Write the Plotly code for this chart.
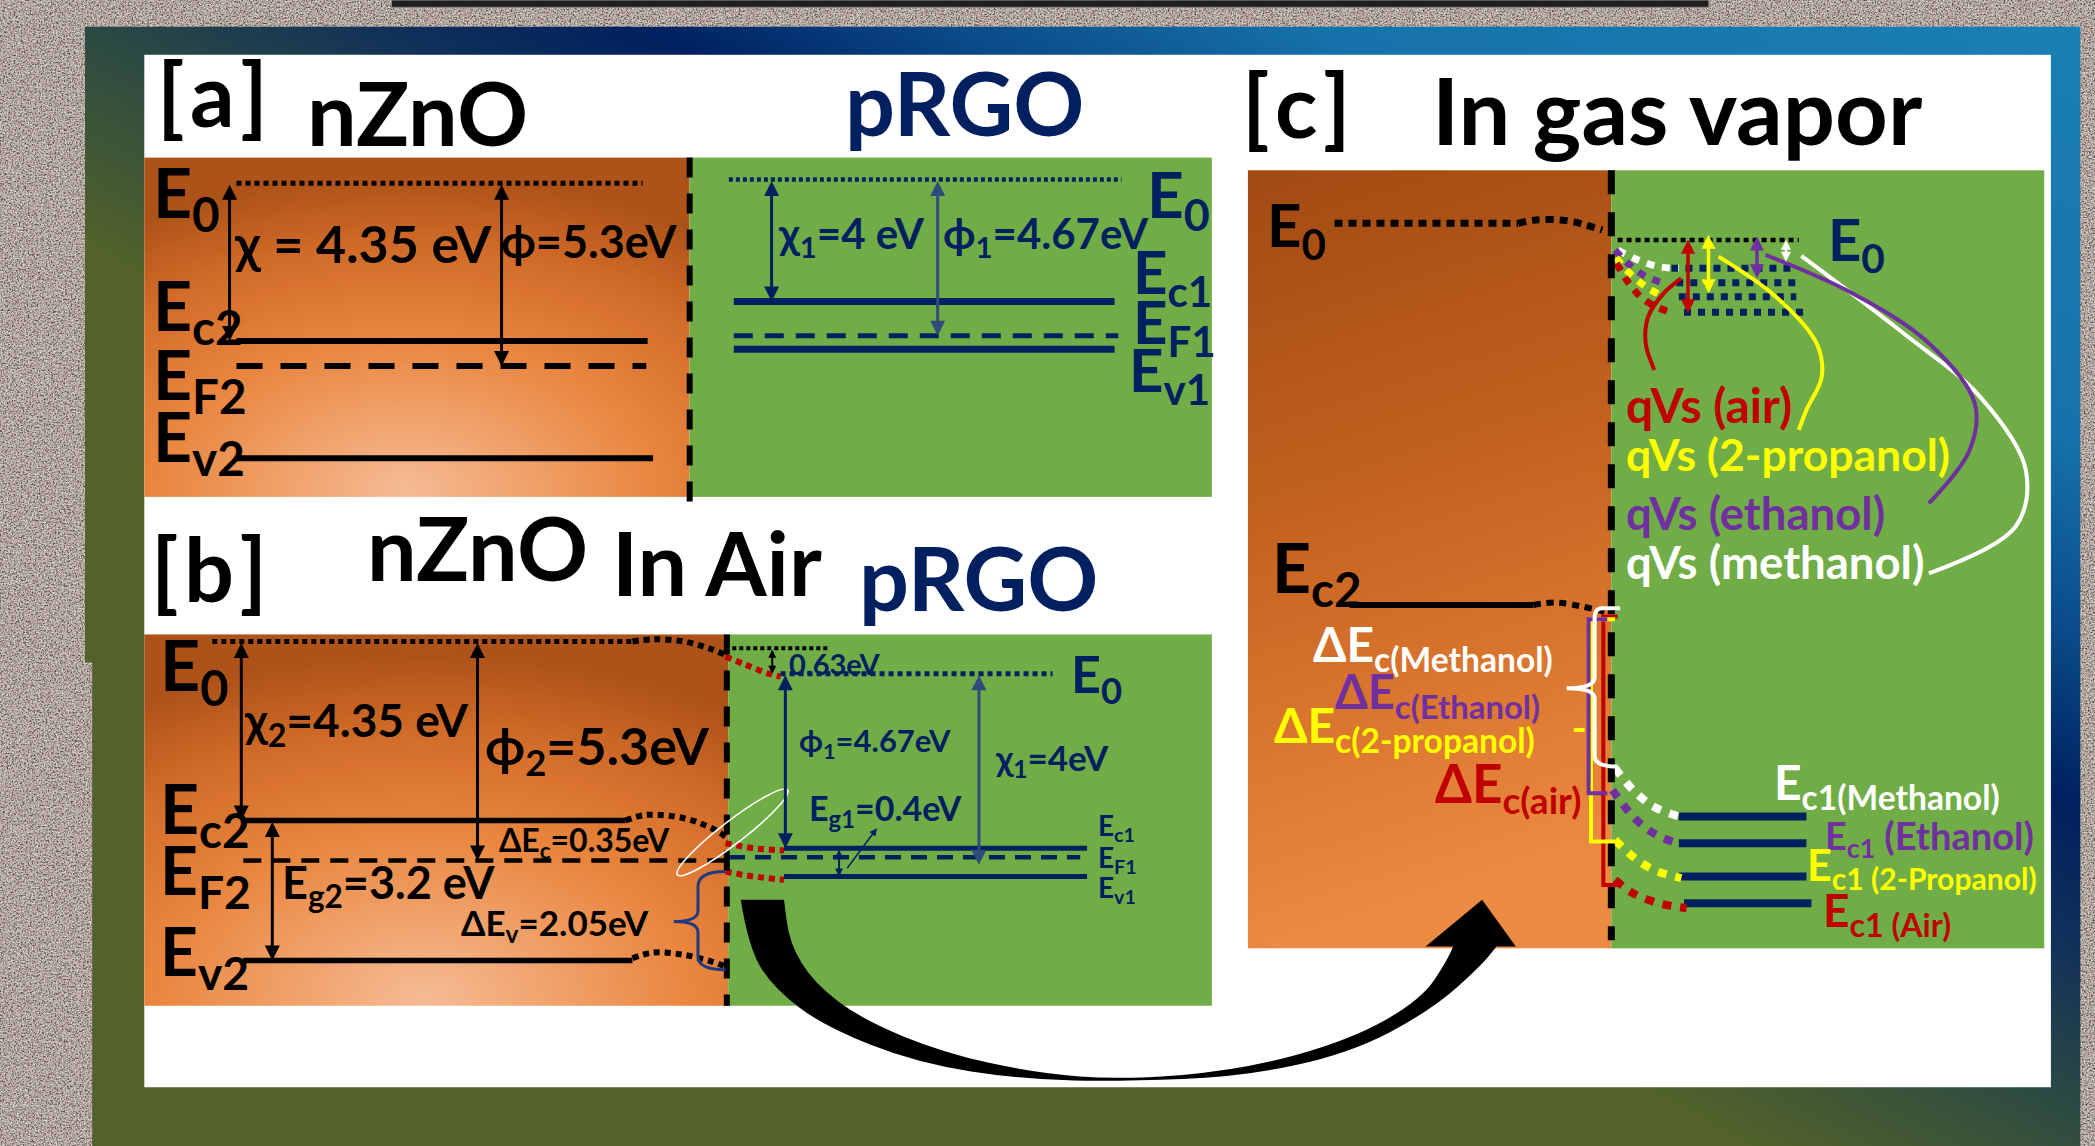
import base64
import plotly.graph_objects as go

S = 2095 / 1568          # screen px per picture unit
W, H = 1568, 858         # picture units

# ============================ DATA ============================
# values printed on the diagram (eV)
CHI_ZNO = 4.35
PHI_ZNO = 5.3
EG_ZNO = 3.2
CHI_RGO = 4
PHI_RGO = 4.67
EG_RGO = 0.4
DELTA_EC = 0.35
DELTA_EV = 2.05
VAC_STEP = 0.63

# level heights (picture y), order: E0, Ec, EF, Ev
A_ZNO_Y = [137.2, 255.3, 274.0, 343.1]
A_RGO_Y = [134.3, 225.8, 251.3, 261.5]
B_ZNO_Y = [480.3, 614.3, 644.3, 719.1]
B_RGO_Y = [504.5, 635.0, 641.8, 656.2]
B_VAC_REF_Y = 485.3

# band bending at the junction in air (panel b)
B_E0_BEND_X = [473.4, 488.9, 512.1, 530.1, 543.0]
B_E0_BEND_Y = [480.3, 478.6, 480.3, 485.3, 490.3]
B_E0_RED_X = [543.0, 558.4, 573.9, 584.2]
B_E0_RED_Y = [491.6, 497.8, 504.0, 506.5]
B_EC_BEND_X = [468.2, 483.7, 512.1, 532.7, 543.0]
B_EC_BEND_Y = [614.3, 610.1, 612.6, 620.1, 626.3]
B_EC_RED_X = [543.0, 563.6, 586.8]
B_EC_RED_Y = [631.3, 635.0, 636.8]
B_EV_RED_X = [543.0, 563.6, 586.8]
B_EV_RED_Y = [652.5, 656.2, 658.7]
B_EV_BEND_X = [473.4, 488.9, 512.1, 532.7, 543.0]
B_EV_BEND_Y = [717.4, 713.1, 714.9, 719.9, 723.6]

# panel c (gas vapour)
GASES = ["Methanol", "Ethanol", "2-Propanol", "Air"]
C_E0_ZNO_Y = 167.2
C_E0_RGO_Y = 179.7
C_E0_BEND_X = [1136.2, 1149.6, 1172.5, 1199.3]
C_E0_BEND_Y = [167.2, 164.7, 165.2, 172.2]
C_VAC_ROWS_Y = [200.9, 211.6, 222.1, 233.8]
C_EC2_Y = 452.9
C_EC2_BEND_X = [1147.7, 1164.9, 1184.0, 1201.2]
C_EC2_BEND_Y = [452.9, 451.1, 454.1, 457.9]
C_EC1_Y = [611.3, 631.3, 656.2, 676.2]          # Methanol, Ethanol, 2-Propanol, Air

C_VAC_BEND_X = [[1210.7, 1226.0, 1241.3, 1256.5],
                [1208.8, 1218.3, 1229.8, 1245.1],
                [1209.5, 1222.2, 1233.6, 1245.0],
                [1209.9, 1218.3, 1227.9, 1239.3, 1252.7]]
C_VAC_BEND_Y = [[187.2, 194.6, 199.6, 200.9],
                [187.2, 197.1, 205.9, 212.1],
                [193.0, 207.1, 215.8, 222.1],
                [197.1, 210.9, 222.1, 229.6, 234.6]]
C_EC_BEND_X = [[1208.8, 1222.2, 1237.5, 1256.5],
               [1206.9, 1222.2, 1237.5, 1254.6],
               [1208.8, 1222.2, 1237.5, 1258.4],
               [1208.8, 1222.2, 1241.3, 1262.3]]
C_EC_BEND_Y = [[575.1, 591.4, 603.8, 611.3],
               [591.4, 611.3, 623.8, 631.3],
               [628.8, 641.3, 651.2, 657.5],
               [658.7, 668.7, 676.2, 679.9]]
# qVs double arrows (x, top, bottom)
QVS_X = [1336.7, 1315.0, 1278.7, 1263.4]
QVS_TOP = [178.4, 175.9, 174.7, 178.4]
QVS_BOT = [195.9, 208.4, 219.6, 234.6]
QVS_LABELS = ["qVs (methanol)", "qVs (ethanol)", "qVs (2-propanol)", "qVs (air)"]
QVS_LEAD_X = [[1348.2, 1424.6, 1481.9, 1516.2, 1508.6, 1443.7],
              [1321.5, 1386.4, 1443.7, 1478.0, 1474.2, 1443.7],
              [1286.3, 1329.1, 1359.6, 1363.5, 1352.0, 1346.3],
              [1258.4, 1245.1, 1233.6, 1231.7, 1238.2]]
QVS_LEAD_Y = [[191.6, 249.5, 296.9, 351.8, 394.2, 429.2],
              [190.9, 219.6, 257.0, 301.9, 336.9, 376.8],
              [192.1, 222.1, 257.0, 282.0, 306.9, 321.9],
              [208.4, 219.6, 237.1, 257.0, 277.0]]

# outline of the big curved arrow (b -> c)
ARROW_OUTER = [(554.4, 673.7), (560.4, 711.1), (580.4, 741.0), (617.0, 768.5), (686.2, 795.9),
               (767.4, 808.4), (840.4, 809.6), (929.4, 806.1), (1010.5, 788.6), (1071.4, 756.2),
               (1107.9, 723.7), (1120.1, 708.6)]
ARROW_HEAD = [(1134.5, 708.6), (1109.3, 673.7), (1067.0, 708.6)]
ARROW_INNER = [(1087.6, 708.6), (1083.6, 718.7), (1063.3, 748.7), (1010.5, 778.6), (929.4, 801.1),
               (840.4, 808.4), (775.5, 803.4), (706.6, 788.4), (645.7, 763.5), (609.1, 736.0),
               (590.9, 706.1), (586.8, 673.7)]

# ============================ STYLE ============================
FONT = "Lato, 'Open Sans', 'DejaVu Sans', sans-serif"
BLACK = "#000000"
NAVY = "#002060"
NAVY2 = "#2f4b7c"
RED = "#c00000"
YEL = "#ffff00"
PUR = "#7030a0"
WHT = "#ffffff"
GAS_COL = [WHT, PUR, YEL, RED]
ASC, CAP = 0.987, 0.7165
HS = "\u200a"   # hair space used inside the bracket labels

fig = go.Figure()
ann = []
shapes = []


def line(xs, ys, color, width, dash="solid", spline=False):
    fig.add_trace(go.Scatter(
        x=xs, y=ys, mode="lines", hoverinfo="skip", showlegend=False,
        line=dict(color=color, width=width, dash=dash,
                  shape="spline" if spline else "linear", smoothing=1.0)))


def hline(x0, x1, y, color, width, dash="solid"):
    line([x0, x1], [y, y], color, width, dash)


def text(x, cap_top, s, size, color=BLACK, xanchor="left"):
    ann.append(dict(x=x, y=cap_top - (ASC - CAP) * size / S, xref="x", yref="y",
                    text="<b>" + s + "</b>", showarrow=False, xanchor=xanchor,
                    yanchor="top", borderpad=0,
                    font=dict(family=FONT, size=size, color=color)))


def arrow(x0, y0, x1, y1, color, width, both=True, size=1.0):
    d = dict(x=x1, y=y1, ax=x0, ay=y0, xref="x", yref="y", axref="x", ayref="y",
             text="", showarrow=True, arrowhead=2, arrowsize=size, arrowwidth=width,
             arrowcolor=color, standoff=0)
    if both:
        d.update(arrowside="end+start", startarrowhead=2, startarrowsize=size,
                 startstandoff=0)
    ann.append(d)


def smooth(pts, start=True):
    """quadratic smoothing through the listed points"""
    out = [f"{'M' if start else 'L'} {pts[0][0]},{pts[0][1]}"]
    for i in range(1, len(pts) - 1):
        mx = (pts[i][0] + pts[i + 1][0]) / 2
        my = (pts[i][1] + pts[i + 1][1]) / 2
        out.append(f"Q {pts[i][0]},{pts[i][1]} {mx:.2f},{my:.2f}")
    out.append(f"L {pts[-1][0]},{pts[-1][1]}")
    return " ".join(out)


# ============================ BACKGROUND (svg image) ============================
svg = f'''<svg xmlns="http://www.w3.org/2000/svg" width="{W}" height="{H}" viewBox="0 0 {W} {H}" preserveAspectRatio="none">
<defs>
 <filter id="g1" x="0" y="0" width="1" height="1" color-interpolation-filters="sRGB">
  <feTurbulence type="fractalNoise" baseFrequency="0.75" numOctaves="3" seed="11"/>
  <feColorMatrix type="matrix" values="0 0 0 0 0.36  0 0 0 0 0.31  0 0 0 0 0.29  -3.2 0 0 0 1.85"/>
 </filter>
 <filter id="g2" x="0" y="0" width="1" height="1" color-interpolation-filters="sRGB">
  <feTurbulence type="fractalNoise" baseFrequency="0.9" numOctaves="2" seed="4"/>
  <feColorMatrix type="matrix" values="0 0 0 0 0.88  0 0 0 0 0.85  0 0 0 0 0.83  0 3.2 0 0 -1.45"/>
 </filter>
 <linearGradient id="frame" gradientUnits="userSpaceOnUse" x1="-200.3" y1="369.2" x2="353" y2="-650.5">
  <stop offset="0" stop-color="#52622a"/>
  <stop offset="0.25" stop-color="#52622a"/>
  <stop offset="0.371" stop-color="#2c4a42"/>
  <stop offset="0.466" stop-color="#10305a"/>
  <stop offset="0.544" stop-color="#00205f"/>
  <stop offset="0.638" stop-color="#0a4a88"/>
  <stop offset="0.75" stop-color="#1672aa"/>
  <stop offset="1" stop-color="#1a80b4"/>
 </linearGradient>
 <radialGradient id="zno" cx="0.48" cy="1.0" r="0.95" fx="0.48" fy="0.98">
  <stop offset="0" stop-color="#f5bb94"/>
  <stop offset="0.25" stop-color="#f0a068"/>
  <stop offset="0.5" stop-color="#e8843c"/>
  <stop offset="0.78" stop-color="#d06a28"/>
  <stop offset="1" stop-color="#ad5218"/>
 </radialGradient>
 <linearGradient id="znoc" x1="0" y1="0" x2="0.15" y2="1">
  <stop offset="0" stop-color="#a14a12"/>
  <stop offset="0.45" stop-color="#c3621f"/>
  <stop offset="0.8" stop-color="#e07b33"/>
  <stop offset="1" stop-color="#eb8b42"/>
 </linearGradient>
</defs>
<rect width="{W}" height="{H}" fill="#b8aca3"/>
<rect width="{W}" height="{H}" filter="url(#g1)"/>
<rect width="{W}" height="{H}" filter="url(#g2)"/>
<rect x="293" y="0" width="986" height="5.5" fill="#1f1f1f" stroke="#8a8a8a" stroke-width="0.8"/>
<path d="M63.6,20 H1557 V858 H69 V496 H63.6 Z" fill="url(#frame)"/>
<rect x="108" y="41" width="1427" height="773" fill="#ffffff"/>
<rect x="108" y="118" width="408" height="254" fill="url(#zno)"/>
<rect x="516" y="118" width="391" height="254" fill="#70ad47"/>
<rect x="108" y="475" width="437" height="278" fill="url(#zno)"/>
<rect x="545" y="475" width="362" height="278" fill="#70ad47"/>
<rect x="934" y="127.5" width="272" height="582.5" fill="url(#znoc)"/>
<rect x="1206" y="127.5" width="324" height="582.5" fill="#70ad47"/>
</svg>'''
src = "data:image/svg+xml;base64," + base64.b64encode(svg.encode()).decode()

# ============================ PANEL [a] ============================
text(117, 46.8, f"[{HS}a{HS}]", 88)
text(229, 61.0, "nZnO", 88)
text(632, 53.6, "pRGO", 88, NAVY)

hline(177, 481, A_ZNO_Y[0], BLACK, 5, "5px,4px")
hline(177, 484.7, A_ZNO_Y[1], BLACK, 6)
hline(177, 483.7, A_ZNO_Y[2], BLACK, 6, "26px,18px")
hline(177, 488.8, A_ZNO_Y[3], BLACK, 6)
hline(545.5, 839.4, A_RGO_Y[0], NAVY, 4.5, "4px,3px")
hline(549.2, 834.2, A_RGO_Y[1], NAVY, 7)
hline(549.2, 837.0, A_RGO_Y[2], NAVY, 5, "19px,12px")
hline(549.2, 834.2, A_RGO_Y[3], NAVY, 7)
line([516.2, 516.2], [118, 378], BLACK, 6, "20px,16px")

arrow(171.8, A_ZNO_Y[0], 171.8, A_ZNO_Y[1], BLACK, 3)
arrow(375.4, A_ZNO_Y[0], 375.4, A_ZNO_Y[2], BLACK, 3)
arrow(577.5, A_RGO_Y[0], 577.5, A_RGO_Y[1], NAVY, 3)
arrow(701.8, A_RGO_Y[0], 701.8, A_RGO_Y[2], NAVY2, 3)

for lab, cap in zip(["E<sub>0</sub>", "E<sub>c2</sub>", "E<sub>F2</sub>", "E<sub>v2</sub>"],
                    [126.0, 211.0, 262.0, 309.0]):
    text(114, cap, lab, 68)
text(174.4, 168.4, f"χ = {CHI_ZNO} eV", 52)
text(374.0, 168.4, f"ϕ={PHI_ZNO}eV", 45)
text(581.6, 163.4, f"χ<sub>1</sub>={CHI_RGO} eV", 42, NAVY)
text(705.4, 163.4, f"ϕ<sub>1</sub>={PHI_RGO}eV", 42, NAVY)
text(857.4, 128.5, "E<sub>0</sub>", 64, NAVY)
for lab, cap, xx in zip(["E<sub>c1</sub>", "E<sub>F1</sub>", "E<sub>v1</sub>"],
                        [187.0, 224.6, 260.8], [847.0, 847.0, 844.6]):
    text(xx, cap, lab, 60, NAVY)

# ============================ PANEL [b] ============================
text(112, 402.3, f"[{HS}b{HS}]", 88)
text(274, 386.8, "nZnO", 88)
text(457, 398.0, "In Air", 88)
text(642, 409.2, "pRGO", 88, NAVY)

hline(158.9, 473.4, B_ZNO_Y[0], BLACK, 5, "5px,4px")
line(B_E0_BEND_X, B_E0_BEND_Y, BLACK, 6, "6px,5px", spline=True)
line(B_E0_RED_X, B_E0_RED_Y, RED, 6, "6px,5px", spline=True)
hline(548.1, 620.3, B_VAC_REF_Y, BLACK, 4, "4px,3px")
hline(584.2, 787.8, B_RGO_Y[0], NAVY, 5, "5px,4px")
hline(182.1, 468.2, B_ZNO_Y[1], BLACK, 5.5)
line(B_EC_BEND_X, B_EC_BEND_Y, BLACK, 6, "6px,5px", spline=True)
line(B_EC_RED_X, B_EC_RED_Y, RED, 6, "6px,5px", spline=True)
hline(182.1, 543.0, B_ZNO_Y[2], BLACK, 4.5, "18px,11px")
hline(545.6, 808.5, B_RGO_Y[2], NAVY, 4.5, "16px,10px")
hline(586.8, 813.6, B_RGO_Y[1], NAVY, 5)
hline(586.8, 813.6, B_RGO_Y[3], NAVY, 5)
line(B_EV_RED_X, B_EV_RED_Y, RED, 6, "6px,5px", spline=True)
hline(182.1, 473.4, B_ZNO_Y[3], BLACK, 5.5)
line(B_EV_BEND_X, B_EV_BEND_Y, BLACK, 6, "6px,5px", spline=True)
line([544.0, 544.0], [475, 753], BLACK, 6, "20px,16px")

arrow(180.6, B_ZNO_Y[0], 180.6, B_ZNO_Y[1], BLACK, 3)
arrow(357.4, B_ZNO_Y[0], 357.4, B_ZNO_Y[2], BLACK, 3)
arrow(203.8, B_ZNO_Y[1], 203.8, B_ZNO_Y[3], BLACK, 3)
arrow(587.8, B_RGO_Y[0], 587.8, B_RGO_Y[1], NAVY, 3)
arrow(732.7, B_RGO_Y[0], 732.7, 647.5, NAVY2, 3)
arrow(628.0, B_RGO_Y[1], 628.0, B_RGO_Y[3], NAVY, 2, size=0.8)
arrow(578.0, B_VAC_REF_Y, 578.0, B_RGO_Y[0], BLACK, 2, size=0.8)
arrow(633.2, 651.2, 656.4, 620.1, NAVY, 1.5, both=False)

for lab, cap, sz in zip(["E<sub>0</sub>", "E<sub>c2</sub>", "E<sub>F2</sub>", "E<sub>v2</sub>"],
                        [479.0, 587.6, 633.8, 694.9], [70, 68, 66, 66]):
    text(119, cap, lab, sz)
text(182.1, 526.5, f"χ<sub>2</sub>={CHI_ZNO} eV", 46)
text(362.5, 544.0, f"ϕ<sub>2</sub>={PHI_ZNO}eV", 52)
text(372.9, 620.0, f"ΔE<sub>c</sub>={DELTA_EC}eV", 32)
text(210.5, 648.8, f"E<sub>g2</sub>={EG_ZNO} eV", 45)
text(344.5, 681.2, f"ΔE<sub>v</sub>={DELTA_EV}eV", 35)
text(589.4, 489.0, f"{VAC_STEP}eV", 29, NAVY)
text(597.1, 545.2, f"ϕ<sub>1</sub>={PHI_RGO}eV", 31, NAVY)
text(744.0, 557.7, f"χ<sub>1</sub>={CHI_RGO}eV", 35, NAVY)
text(604.8, 595.1, f"E<sub>g1</sub>={EG_RGO}eV", 34, NAVY)
text(800.7, 490.3, "E<sub>0</sub>", 52, NAVY)
for lab, cap in zip(["E<sub>c1</sub>", "E<sub>F1</sub>", "E<sub>v1</sub>"], [610.0, 633.8, 656.2]):
    text(821.3, cap, lab, 28, NAVY)

# brace for ΔEv
shapes.append(dict(type="path", xref="x", yref="y",
                   path="M 543,652.5 Q 522.4,652.5 522.4,664 L 522.4,682 Q 522.4,689.9 504.3,689.9 "
                        "Q 522.4,689.9 522.4,698 L 522.4,716 Q 522.4,726.1 543,726.1",
                   line=dict(color="#1f3a80", width=3)))
# white ellipse around the conduction band offset
cx, cy, ea, eb = 548.2, 623.2, 52.1, 8.5
ux, uy = 82.5 / 104.2, -63.6 / 104.2
vx, vy = -uy, ux
k = 0.5523
P = [(cx + ea * ux, cy + ea * uy), (cx + eb * vx, cy + eb * vy),
     (cx - ea * ux, cy - ea * uy), (cx - eb * vx, cy - eb * vy)]
T = [(ux, uy), (vx, vy), (-ux, -uy), (-vx, -vy)]
R = [ea, eb, ea, eb]
seg = [f"M {P[0][0]:.2f},{P[0][1]:.2f}"]
for i in range(4):
    j = (i + 1) % 4
    c1 = (P[i][0] + k * R[j] * T[j][0], P[i][1] + k * R[j] * T[j][1])
    c2 = (P[j][0] + k * R[i] * T[i][0], P[j][1] + k * R[i] * T[i][1])
    seg.append(f"C {c1[0]:.2f},{c1[1]:.2f} {c2[0]:.2f},{c2[1]:.2f} {P[j][0]:.2f},{P[j][1]:.2f}")
shapes.append(dict(type="path", xref="x", yref="y", path=" ".join(seg) + " Z",
                   line=dict(color=WHT, width=1.6)))

# ============================ PANEL [c] ============================
text(929, 55.6, f"[{HS}c{HS}]", 88)
text(1071, 58.6, "In gas vapor", 92)

hline(998.8, 1136.2, C_E0_ZNO_Y, BLACK, 7, "8px,6px")
line(C_E0_BEND_X, C_E0_BEND_Y, BLACK, 7, "8px,6px", spline=True)
hline(1210.7, 1346.3, C_E0_RGO_Y, BLACK, 4.5, "5px,4px")
for y, xa, xb in zip(C_VAC_ROWS_Y, [1251.0, 1254.6, 1256.5, 1260.4], [1344.4, 1344.4, 1344.4, 1352.0]):
    hline(xa, xb, y, NAVY, 7, "7px,7px")
for xs, ys, col in zip(C_VAC_BEND_X, C_VAC_BEND_Y, GAS_COL):
    line(xs, ys, col, 7, "8px,8px", spline=True)
for xs, ys, col in zip(QVS_LEAD_X, QVS_LEAD_Y, GAS_COL):
    line(xs, ys, col, 4, spline=True)

hline(1010.2, 1147.7, C_EC2_Y, BLACK, 6)
line(C_EC2_BEND_X, C_EC2_BEND_Y, BLACK, 6, "7px,6px", spline=True)
for y, xa, xb in zip(C_EC1_Y, [1256.5, 1256.5, 1256.5, 1260.4], [1352.0, 1352.0, 1352.0, 1355.8]):
    hline(xa, xb, y, NAVY, 8)
for xs, ys, col in zip(C_EC_BEND_X, C_EC_BEND_Y, GAS_COL):
    line(xs, ys, col, 8, "9px,9px", spline=True)
line([1206.0, 1206.0], [127.5, 704.0], BLACK, 7, "24px,18px")

# nested offset brackets
line([1210.7, 1200.0, 1200.0, 1210.7], [461.6, 461.6, 662.5, 662.5], RED, 4)
line([1208.8, 1190.8, 1190.8, 1208.8], [463.6, 463.6, 630.0, 630.0], YEL, 4)
line([1178.0, 1186.0], [546.5, 546.5], YEL, 4)
line([1203.0, 1189.0, 1189.0, 1203.0], [463.6, 463.6, 593.9, 593.9], PUR, 4)
shapes.append(dict(type="path", xref="x", yref="y",
                   path="M 1212.6,455.4 L 1199,455.4 Q 1193.5,455.4 1193.5,463 L 1193.5,507 "
                        "Q 1193.5,515.3 1172.5,515.3 Q 1193.5,515.3 1193.5,523 L 1193.5,566 "
                        "Q 1193.5,573.9 1210.7,573.9",
                   line=dict(color=WHT, width=4)))

for xq, yt, yb, col in zip(QVS_X, QVS_TOP, QVS_BOT, GAS_COL):
    arrow(xq, yt, xq, yb, col, 3.5 if col != WHT else 2.5, size=0.8)

text(947.2, 152.2, "E<sub>0</sub>", 60)
text(1367.3, 163.5, "E<sub>0</sub>", 58, NAVY)
text(951.0, 406.7, "E<sub>c2</sub>", 68)
for lab, cap, col, sz in zip(QVS_LABELS, [408.0, 371.8, 328.1, 290.7], GAS_COL, [45.5, 45.5, 44.5, 48]):
    text(1216.4, cap, lab, sz, col)

text(981.6, 469.1, "ΔE<sub>c(Methanol)</sub>", 48, WHT)
text(998.8, 505.3, "ΔE<sub>c(Ethanol)</sub>", 47, PUR)
text(952.9, 530.2, "ΔE<sub>c(2-propanol)</sub>", 48, YEL)
text(1073.2, 572.6, "ΔE<sub>c(air)</sub>", 53, RED)

text(1327.2, 572.6, "E<sub>c1(Methanol)</sub>", 48, WHT)
text(1365.4, 615.0, "E<sub>c1</sub> (Ethanol)", 38, PUR)
text(1352.0, 636.3, "E<sub>c1 (2-Propanol)</sub>", 43, YEL)
text(1363.5, 668.7, "E<sub>c1 (Air)</sub>", 46, RED)

# big curved arrow from panel b to panel c
arrow_path = (smooth(ARROW_OUTER) + " " +
              " ".join(f"L {x},{y}" for x, y in ARROW_HEAD) + " " +
              smooth(ARROW_INNER, start=False) + " Z")
shapes.append(dict(type="path", xref="x", yref="y", fillcolor=BLACK, line=dict(width=0),
                   path=arrow_path))

fig.update_layout(
    width=2095, height=1146, margin=dict(l=0, r=0, t=0, b=0),
    paper_bgcolor="white", plot_bgcolor="rgba(0,0,0,0)", showlegend=False,
    xaxis=dict(range=[0, W], visible=False, fixedrange=True),
    yaxis=dict(range=[H, 0], visible=False, fixedrange=True),
    images=[dict(source=src, xref="paper", yref="paper", x=0, y=1, sizex=1, sizey=1,
                 sizing="stretch", xanchor="left", yanchor="top", layer="below")],
    annotations=ann, shapes=shapes,
)
fig.write_html("out.html", config={"displayModeBar": False},
               post_script="document.body.style.margin='0';document.body.style.overflow='hidden';")
